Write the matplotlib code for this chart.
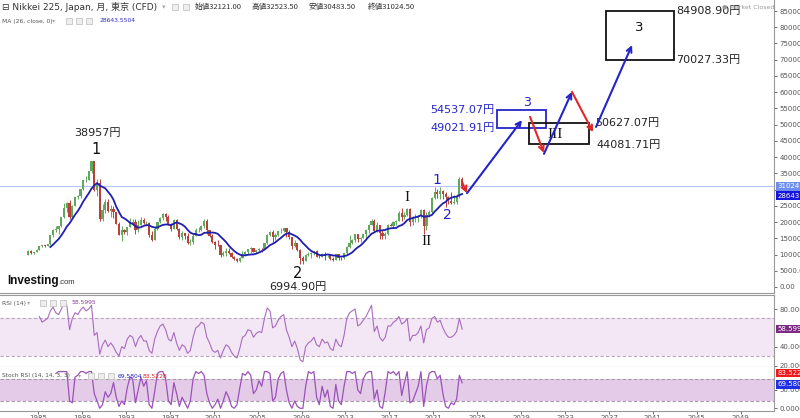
import numpy as np
import pandas as pd
import matplotlib
matplotlib.use("Agg")
import matplotlib.pyplot as plt
from matplotlib.patches import Rectangle
from matplotlib.transforms import blended_transform_factory

plt.rcParams['font.family'] = ['DejaVu Sans', 'Noto Sans CJK JP']

# quarterly candles (Nikkei 225 CFD)
quarters = pd.period_range('1984Q1', '2023Q3', freq='Q')
first_open = 9930
closes = [
    10990, 10360, 10820, 11540, 12580, 12880, 12700, 13110,
    15860, 17650, 17850, 18700, 21570, 24180, 26010, 21560,
    25000, 27770, 27920, 30160, 32840, 33000, 35640, 38920,
    29980, 31940, 20980, 23850, 26290, 23290, 23920, 22980,
    19350, 15950, 17400, 16920, 18590, 19590, 20100, 17420,
    19110, 20640, 19560, 19720, 16140, 14520, 17910, 19870,
    21400, 22530, 21560, 19360, 18000, 20600, 17890, 15260,
    16530, 15830, 13410, 13840, 15840, 17530, 17600, 18930,
    20340, 17410, 15750, 13790, 13000, 12970, 9770, 10540,
    11020, 10620, 9380, 8580, 7970, 9080, 10220, 10680,
    11720, 11860, 10820, 11490, 11670, 11580, 13570, 16110,
    17060, 15510, 16130, 17230, 17290, 18140, 16790, 15310,
    12530, 13480, 11260, 8860, 8110, 9960, 10130, 10550,
    11090, 9380, 9370, 10230, 9760, 9820, 8700, 8460,
    10080, 9010, 8870, 10400, 12400, 13680, 14460, 16290,
    14830, 15160, 16170, 17450, 19210, 20240, 17390, 19030,
    16760, 15580, 16450, 19110, 18910, 20030, 20360, 22760,
    21450, 22300, 24120, 20010, 21210, 21280, 21760, 23660,
    18920, 22290, 23190, 27440, 29180, 28790, 29450, 28790,
    27820, 26390, 25940, 26090, 28040, 33190, 31024.5,
]
highs = [
    11300, 11400, 10900, 11580, 12600, 12950, 12900, 13130,
    16000, 17800, 18900, 18800, 21600, 25900, 26300, 26650,
    25200, 27800, 28400, 30200, 33000, 34300, 35700, 38957,
    38920, 33200, 33300, 25600, 27100, 27150, 25200, 25000,
    23000, 20000, 18900, 18000, 18600, 21150, 21000, 20800,
    20700, 21550, 21100, 20200, 19900, 17300, 18400, 20000,
    21500, 22750, 22700, 22100, 19700, 20900, 20900, 18200,
    17300, 16600, 16700, 14800, 16400, 18300, 18500, 19000,
    20800, 20900, 17700, 16200, 14200, 14500, 13000, 11100,
    11900, 11900, 10900, 9500, 8800, 9200, 11200, 11200,
    11800, 12200, 11900, 11500, 11900, 11900, 13700, 16400,
    17300, 17600, 16500, 17300, 18300, 18300, 18300, 17500,
    15310, 14600, 13600, 11600, 9600, 10200, 10800, 10700,
    11200, 11400, 9800, 10400, 10900, 10000, 10200, 9200,
    10300, 10300, 9300, 10450, 12650, 15950, 14900, 16400,
    16320, 15400, 16400, 18000, 19300, 20950, 20900, 20000,
    19100, 17600, 17000, 19500, 19700, 20300, 20500, 23400,
    24200, 23100, 24300, 24400, 21800, 22400, 22200, 24100,
    24100, 23200, 23600, 27600, 30700, 30300, 30800, 29900,
    29400, 27900, 29200, 28400, 28700, 33800, 33750,
]
lows = [
    9890, 10200, 10050, 10700, 11500, 12400, 12400, 12550,
    12880, 15300, 16900, 16300, 18500, 21100, 23200, 20900,
    21200, 24800, 27000, 27300, 29800, 32300, 32800, 35200,
    29700, 28000, 20200, 20220, 22700, 23200, 21500, 21400,
    19300, 15900, 14300, 16300, 16100, 18500, 19100, 16400,
    16900, 19000, 19300, 18800, 15400, 14300, 14500, 17500,
    19700, 20500, 20400, 19200, 17300, 17900, 17700, 14700,
    14500, 14900, 13300, 12800, 13100, 15800, 16900, 17300,
    18200, 16300, 15500, 13400, 11800, 12600, 9380, 9600,
    9400, 10100, 8900, 8300, 7800, 7600, 9000, 9600,
    10200, 10500, 10700, 10600, 11200, 10800, 11500, 13100,
    15800, 14000, 14500, 15700, 16500, 17000, 15300, 14800,
    11700, 12200, 11000, 6994.9, 7050, 7900, 9600, 9000,
    10000, 9300, 8800, 9100, 8200, 9300, 8400, 8100,
    8300, 8200, 8300, 8600, 10300, 12000, 13100, 13800,
    13900, 13900, 15100, 14500, 16600, 19000, 16900, 17000,
    14900, 14900, 14900, 16100, 18700, 18200, 19200, 20400,
    20300, 21000, 21800, 18900, 19200, 20100, 20100, 21400,
    16350, 17600, 21700, 22900, 27000, 27400, 26950, 27200,
    24700, 25500, 25500, 25700, 25700, 27400, 30480,
]
# MA(26) values, one per quarter, ending at the last candle
ma26 = [
    12316, 13056, 13888, 14763, 15878, 17167, 18626, 19610, 20931, 22254,
    23396, 24763, 26334, 27604, 28878, 30312, 31248, 32019, 31264, 30812,
    30382, 29321, 28312, 26906, 24731, 23172, 21557, 21106, 20521, 19777,
    19422, 18700, 18270, 18413, 18814, 19072, 18986, 18533, 18347, 18321,
    18763, 19143, 19246, 19223, 19032, 19528, 19902, 19608, 19237, 18618,
    17604, 16747, 16356, 16303, 15970, 16086, 16650, 16748, 16739, 16781,
    16688, 16369, 15507, 14722, 13843, 12763, 11871, 11074, 10428, 9992,
    9687, 9788, 9919, 10012, 10034, 10269, 10612, 11013, 11512, 12167,
    12876, 13297, 13771, 14483, 15128, 15847, 16426, 16619, 16221, 15823,
    15351, 14543, 13530, 12716, 11826, 11132, 10663, 10313, 9857, 9742,
    9842, 10032, 9892, 9707, 9654, 9423, 9367, 9481, 9722, 10158,
    10673, 11517, 12224, 12789, 13584, 14538, 15517, 16388, 16800, 17308,
    17360, 17443, 17587, 17913, 18076, 18167, 18180, 18777, 19046, 19661,
    20610, 21006, 21239, 21502, 21694, 22061, 21634, 21728, 21827, 22196,
    23214, 24057, 24964, 25746, 26208, 27038, 27443, 27766, 27832, 28278,
    28644,
]
rsi14 = [
    72, 66, 68, 70, 78, 82, 76, 74, 80, 86, 84, 58, 70, 76, 74, 79,
    82, 78, 80, 84, 52, 55, 32, 42, 47, 40, 44, 40, 34, 30, 40, 38,
    48, 52, 50, 40, 48, 52, 46, 46, 36, 33, 48, 56, 62, 64, 58, 48,
    46, 55, 44, 36, 42, 40, 33, 36, 50, 60, 62, 66, 64, 50, 44, 36,
    34, 36, 28, 36, 42, 40, 34, 30, 28, 38, 50, 52, 58, 57, 50, 54,
    56, 55, 70, 81, 78, 60, 62, 68, 72, 74, 58, 50, 40, 46, 38, 26,
    24, 40, 44, 46, 50, 42, 40, 48, 44, 45, 38, 36, 48, 42, 40, 52,
    70, 76, 78, 80, 62, 64, 68, 72, 78, 84, 56, 62, 50, 46, 50, 62,
    62, 66, 68, 72, 64, 66, 70, 46, 52, 52, 55, 62, 44, 58, 60, 70,
    72, 66, 68, 60, 54, 50, 50, 52, 56, 70, 58.5995,
]
stoch_k = [
    95, 100, 100, 100, 100, 20, 15, 85, 90, 100, 100, 95, 100, 100, 40, 20,
    0, 10, 45, 30, 40, 70, 30, 5, 20, 10, 55, 85, 80, 15, 50, 85,
    60, 75, 10, 0, 45, 95, 100, 100, 80, 20, 10, 70, 40, 5, 30, 15,
    0, 20, 80, 100, 95, 100, 90, 40, 15, 0, 10, 25, 0, 20, 45, 30,
    5, 0, 10, 55, 95, 90, 100, 90, 40, 50, 75, 60, 100, 100, 95, 20,
    30, 80, 95, 100, 50, 15, 0, 20, 5, 0, 0, 60, 100, 95, 100, 30,
    10, 60, 30, 50, 5, 0, 65, 20, 10, 60, 100, 100, 95, 100, 50, 40,
    80, 95, 100, 100, 25, 50, 5, 0, 45, 100, 95, 100, 90, 100, 35, 70,
    100, 15, 20, 40, 60, 100, 5, 60, 95, 100, 100, 80, 90, 40, 5, 0,
    15, 10, 25, 90, 69.5804,
]
year_ticks = list(range(1985, 2050, 4))
price_ticks = list(range(0, 85001, 5000))

t = np.array(quarters.year + (quarters.quarter - 0.5) / 4.0)
opens = [first_open] + closes[:-1]

W, H = 800, 418
fig = plt.figure(figsize=(8, 4.18), dpi=100)
R = 774 / W
ax = fig.add_axes([0, 125 / H, R, 293 / H])
ax_rsi = fig.add_axes([0, 50.7 / H, R, 72.6 / H])
ax_st = fig.add_axes([0, 7 / H, R, 43.7 / H])

for a in (ax, ax_rsi, ax_st):
    a.set_xlim(1981.54, 2052.03)
    for s in ('left', 'top'):
        a.spines[s].set_visible(False)
    for s in ('right', 'bottom'):
        a.spines[s].set_color('#999999')
        a.spines[s].set_linewidth(0.8)
    a.yaxis.tick_right()
    a.tick_params(axis='y', labelsize=5, colors='#555555', length=2.5, pad=1.5, width=0.6)
    a.tick_params(axis='x', labelsize=5, colors='#555555', length=2, pad=1, width=0.6)
ax_rsi.spines['top'].set_visible(True)
ax_rsi.spines['top'].set_color('#999999')
ax.set_xticks([])
ax_rsi.set_xticks([])
ax_st.set_xticks(year_ticks)
ax_st.set_xticklabels([str(y) for y in year_ticks])

# --- main price panel
ax.set_ylim(-1850, 88390)
ax.set_yticks(price_ticks)
ax.set_yticklabels([f'{v:.2f}' for v in price_ticks])
ax.axhline(closes[-1], color='#b8c4f2', lw=0.8, zorder=1)

up, down = '#62a85c', '#b8423a'
for x, o, c, h, l in zip(t, opens, closes, highs, lows):
    col = up if c >= o else down
    ax.vlines(x, l, h, color=col, lw=0.7, zorder=2)
    ax.bar(x, c - o if c != o else 50, bottom=o, width=0.2, color=col, lw=0, zorder=2)

ax.plot(t[-len(ma26):], ma26, color='#1f1fb0', lw=1.3, zorder=3)


def tag(a, y, text, fc):
    a.text(1.004, y, text, transform=blended_transform_factory(a.transAxes, a.transData),
           fontsize=5, color='white', va='center', ha='left', clip_on=False, zorder=10,
           bbox=dict(boxstyle='square,pad=0.18', fc=fc, ec='none'))


tag(ax, closes[-1], f'{closes[-1]:.1f}', '#6f8ff0')
tag(ax, ma26[-1] - 500, '28643.5', '#1515e0')

# wave labels
fsz = 8
ax.text(1990.37, 47400, '38957円', ha='center', va='center', fontsize=fsz, color='#222222')
ax.text(1990.28, 42200, '1', ha='center', va='center', fontsize=10.5, color='#111111')
ax.text(2008.68, 4300, '2', ha='center', va='center', fontsize=10.5, color='#111111')
ax.text(2008.68, 0, '6994.90円', ha='center', va='center', fontsize=fsz, color='#222222',
        clip_on=False, zorder=6)
serif = 'Liberation Serif'
ax.text(2018.6, 27700, 'I', ha='center', va='center', fontsize=11, color='#111111', family=serif)
ax.text(2020.34, 13900, 'II', ha='center', va='center', fontsize=11, color='#111111', family=serif)
blue = '#2424c8'
ax.text(2021.34, 33000, '1', ha='center', va='center', fontsize=10, color=blue)
ax.text(2022.25, 22200, '2', ha='center', va='center', fontsize=10, color=blue)

# target boxes
ax.add_patch(Rectangle((2026.8, 49021.91), 4.5, 54537.07 - 49021.91, fill=False, ec=blue, lw=1.3, zorder=4))
ax.text(2029.53, 56700, '3', ha='center', va='center', fontsize=9, color=blue)
ax.text(2026.6, 54537.07, '54537.07円', ha='right', va='center', fontsize=fsz, color=blue)
ax.text(2026.6, 49021.91, '49021.91円', ha='right', va='center', fontsize=fsz, color=blue)

ax.add_patch(Rectangle((2029.7, 44081.71), 5.5, 50627.07 - 44081.71, fill=False, ec='#111111', lw=1.3, zorder=4))
ax.text(2032.09, 47100, 'III', ha='center', va='center', fontsize=11, color='#111111', family=serif)
ax.text(2035.73, 50627.07, '50627.07円', ha='left', va='center', fontsize=fsz, color='#222222')
ax.text(2035.9, 43700, '44081.71円', ha='left', va='center', fontsize=fsz, color='#222222')

ax.add_patch(Rectangle((2036.7, 70027.33), 6.2, 84908.90 - 70027.33, fill=False, ec='#111111', lw=1.3, zorder=4))
ax.text(2039.74, 79800, '3', ha='center', va='center', fontsize=9.5, color='#111111')
ax.text(2043.1, 84908.90, '84908.90円', ha='left', va='center', fontsize=fsz, color='#222222', zorder=6)
ax.text(2043.1, 70027.33, '70027.33円', ha='left', va='center', fontsize=fsz, color='#222222')

# projected path arrows
red = '#e02828'
path = [
    ((2023.62, 32300), (2024.07, 28900), red),
    ((2024.07, 28900), (2029.08, 51400), blue),
    ((2029.81, 52400), (2031.08, 41300), red),
    ((2031.08, 41000), (2033.63, 60100), blue),
    ((2033.63, 60100), (2035.55, 47700), red),
    ((2035.82, 49300), (2039.10, 74500), blue),
]
for tail, head, col in path:
    ax.annotate('', xy=head, xytext=tail,
                arrowprops=dict(arrowstyle='->', color=col, lw=1.5, shrinkA=0, shrinkB=0,
                                mutation_scale=9), zorder=5)

# --- RSI panel
ax_rsi.set_ylim(18.1, 95.2)
ax_rsi.axhspan(30, 70, color='#f3e6f5', lw=0, zorder=0)
for lv in (30, 70):
    ax_rsi.axhline(lv, color='#b9a6bd', lw=0.8, ls=(0, (3, 2)), zorder=1)
ax_rsi.plot(t[-len(rsi14):], rsi14, color='#a86cc0', lw=0.8, zorder=2)
ax_rsi.set_yticks([20, 40, 80])
ax_rsi.set_yticklabels(['20.0000', '40.0000', '80.0000'])
tag(ax_rsi, rsi14[-1], '58.5995', '#7d2a85')

# --- Stoch RSI panel
ax_st.set_ylim(-7.4, 111.7)
ax_st.axhspan(20, 80, color='#e4cce9', lw=0, zorder=0)
for lv in (20, 80):
    ax_st.axhline(lv, color='#a995ad', lw=0.8, ls=(0, (3, 2)), zorder=1)
ax_st.plot(t[-len(stoch_k):], stoch_k, color='#9a52b8', lw=0.9, zorder=2)
ax_st.set_yticks([0, 50])
ax_st.set_yticklabels(['0.0000', '50.0000'])
tag(ax_st, 96, '83.5228', '#f01818')
tag(ax_st, 65, '69.5804', '#1f2fe8')


# --- header texts
def ftext(x, y, s, **kw):
    fig.text(x / W, 1 - y / H, s, va='center', ha='left', **kw)


def icons(xs, y):
    for x in xs:
        fig.add_artist(Rectangle((x / W, 1 - (y + 3) / H), 6 / W, 6 / H, transform=fig.transFigure,
                                 fc='#eeeeee', ec='#c4c4c4', lw=0.6))


cjk = ['Noto Sans CJK JP', 'DejaVu Sans']
ftext(2, 7, '⊟ Nikkei 225, Japan, 月, 東京 (CFD)', fontsize=6.5, color='#333333')
ftext(162, 7, '▾', fontsize=5, color='#aaaaaa')
icons([172, 183], 7)
for x, s in [(195, '始値32121.00'), (252, '高値32523.50'), (309, '安値30483.50'), (368, '終値31024.50')]:
    ftext(x, 7, s, fontsize=5.5, color='#333333', family=cjk)
ftext(2, 21, 'MA (26, close, 0)', fontsize=4.3, color='#555555')
ftext(52, 21, '▾', fontsize=4.5, color='#aaaaaa')
icons([66, 76, 86], 21)
ftext(99, 21, '28643.5504', fontsize=4.3, color='#2b2bd0')
ftext(722, 7, '● Market Closed', fontsize=4.5, color='#9a9a9a')

ftext(2, 303, 'RSI (14)', fontsize=4.3, color='#555555')
ftext(27, 303, '▾', fontsize=4.5, color='#aaaaaa')
icons([40, 50, 60], 303)
ftext(71, 303, '58.5995', fontsize=4.3, color='#8b3a9a')
ftext(2, 376, 'Stoch RSI (14, 14, 3, 3)', fontsize=4.2, color='#555555')
ftext(78, 376, '▾', fontsize=4.5, color='#aaaaaa')
icons([88, 98, 108], 376)
ftext(118, 376, '69.5804', fontsize=4.3, color='#2323c8')
ftext(143, 376, '83.5228', fontsize=4.3, color='#dd2222')

ftext(7, 281, 'Investing', fontsize=8.5, fontweight='bold', color='#111111', family='Liberation Sans')
ftext(58, 283, '.com', fontsize=5.5, color='#333333', family='Liberation Sans')

fig.savefig('out.png', dpi=100)
